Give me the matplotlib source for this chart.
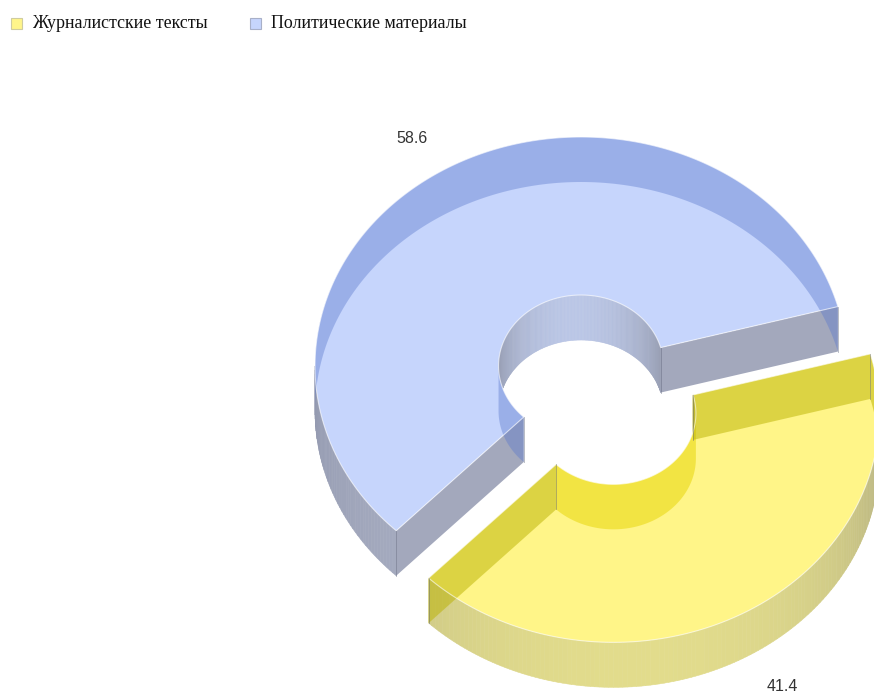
import numpy as np
import matplotlib
matplotlib.use("Agg")
import matplotlib.pyplot as plt
from matplotlib.patches import Polygon, Rectangle
from matplotlib.colors import to_rgb

# Data
categories = ["Журналистские тексты", "Политические материалы"]
values = [41.4, 58.6]
value_labels = ["41.4", "58.6"]
explode = [0.24, 0.0]

# Colours per slice
top_colors = ["#fff588", "#c6d5fc"]
wall_light = ["#e2dc8c", "#aab0c4"]
wall_dark = ["#a9a57c", "#949ab0"]
inner_light = ["#e8e070", "#bac6e6"]
inner_dark = ["#c8c060", "#969cb0"]
cut_colors = ["#d8d26a", "#a3a8bc"]
hidden_colors = ["#bab200", "#5a78cc"]
hidden_inner = ["#e6d400", "#5a78cc"]
hidden_alpha = [0.5, 0.4]
legend_colors = ["#fff58a", "#c6d5fc"]
legend_edges = ["#cfcca0", "#a8b0c8"]

# Projection of the 3D donut (pixel space)
CX, CY = 581, 366
AX, BY = 266, 229
DEPTH = 45
INNER = 0.31
START = 226.0


def pt(rho, t, top, off):
    t = np.radians(t)
    x = CX + off[0] + AX * rho * np.cos(t)
    y = CY + off[1] - BY * rho * np.sin(t) + (0 if top else DEPTH)
    return np.column_stack([np.atleast_1d(x), np.atleast_1d(y)])


def arc(rho, a, b, top, off):
    n = max(int(abs(b - a)), 2)
    t = np.linspace(a, b, n)
    return pt(rho, t, top, off)


def wall(rho, a, b, off):
    return np.vstack([arc(rho, a, b, True, off), arc(rho, b, a, False, off)])


def cut(t, off):
    return np.vstack([pt(INNER, t, True, off), pt(1, t, True, off),
                      pt(1, t, False, off), pt(INNER, t, False, off)])


def pieces(a, b):
    ks = range(int(np.floor(a / 180)) + 1, int(np.ceil(b / 180)))
    cuts = [a] + [k * 180.0 for k in ks] + [b]
    return list(zip(cuts[:-1], cuts[1:]))


def mix(c1, c2, f):
    c1, c2 = np.array(to_rgb(c1)), np.array(to_rgb(c2))
    return tuple(c1 + (c2 - c1) * f)


fig = plt.figure(figsize=(8.74, 7.0), dpi=100)
ax = fig.add_axes([0, 0, 1, 1])
ax.set_xlim(0, 874)
ax.set_ylim(700, 0)
ax.axis("off")

# slice angles
angles = []
t = START
for v in values:
    span = v / sum(values) * 360
    angles.append((t, t + span))
    t += span

# draw the back slice (blue) first, then the front one
order = [1, 0]
for i in order:
    t0, t1 = angles[i]
    mid = (t0 + t1) / 2
    off = (AX * explode[i] * np.cos(np.radians(mid)),
           -BY * explode[i] * np.sin(np.radians(mid)))
    hidden = []

    for a, b in pieces(t0, t1):
        front = np.sin(np.radians((a + b) / 2)) < 0
        if front:
            # outer wall faces the viewer
            for s in np.arange(a, b, 1.0):
                e = min(s + 1.0, b)
                f = np.clip(np.cos(np.radians((s + e) / 2 - 275)), 0, 1) ** 0.8
                c = mix(wall_dark[i], wall_light[i], f)
                ax.add_patch(Polygon(wall(1, s, e, off), closed=True, fc=c, ec=c, lw=0.4))
            hidden.append((wall(INNER, a, b, off), hidden_inner[i]))
        else:
            # inner wall on the far side of the hole
            for s in np.arange(a, b, 1.0):
                e = min(s + 1.0, b)
                f = np.clip(np.cos(np.radians((s + e) / 2 - 95)), 0, 1) ** 1.5
                c = mix(inner_dark[i], inner_light[i], f)
                ax.add_patch(Polygon(wall(INNER, s, e, off), closed=True, fc=c, ec=c, lw=0.4))
            hidden.append((wall(1, a, b, off), hidden_colors[i]))

    # cut faces
    for t, vis in [(t0, np.cos(np.radians(t0)) > 0), (t1, np.cos(np.radians(t1)) < 0)]:
        if vis:
            ax.add_patch(Polygon(cut(t, off), closed=True, fc=cut_colors[i], ec="none"))
        else:
            hidden.append((cut(t, off), hidden_colors[i]))

    # top face
    top = np.vstack([arc(1, t0, t1, True, off), arc(INNER, t1, t0, True, off)])
    ax.add_patch(Polygon(top, closed=True, fc=top_colors[i], ec="none"))

    # faces seen through the transparent top
    for poly, c in hidden:
        ax.add_patch(Polygon(poly, closed=True, fc=c, alpha=hidden_alpha[i], ec="none"))

    # light rims and dark corner edges
    ax.add_patch(Polygon(top, closed=True, fc="none", ec="white", lw=0.8, alpha=0.6))
    for t in (t0, t1):
        for rho in (INNER, 1):
            p = np.vstack([pt(rho, t, True, off), pt(rho, t, False, off)])
            ax.plot(p[:, 0], p[:, 1], color="#5c6278", lw=0.6, alpha=0.5)

    # value label
    lt = mid + 2
    lab = pt(1.18, lt, np.sin(np.radians(lt)) > 0, off)[0]
    ax.text(lab[0], lab[1], value_labels[i], ha="center", va="center",
            fontsize=11.5, family="Liberation Sans", color="#333333")

# legend
leg_x = [11, 250]
for i, name in enumerate(categories):
    ax.add_patch(Rectangle((leg_x[i], 18), 11, 11, fc=legend_colors[i],
                           ec=legend_edges[i], lw=0.8))
    ax.text(leg_x[i] + 21, 24, name, ha="left", va="center",
            fontsize=12.9, family="Liberation Serif", color="#111111")

fig.savefig("out.png", dpi=100)
